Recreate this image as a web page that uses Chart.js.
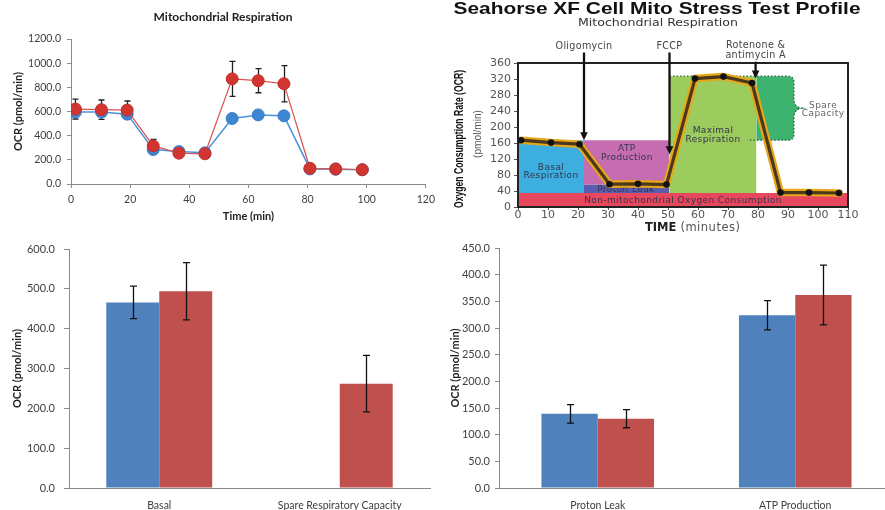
<!DOCTYPE html>
<html>
<head>
<meta charset="utf-8">
<title>Mitochondrial respiration</title>
<script src="https://cdn.jsdelivr.net/npm/chart.js@4.4.1/dist/chart.umd.min.js"></script>
<style>
  html, body { margin: 0; padding: 0; background: #fff; width: 885px; height: 510px; overflow: hidden; }
  canvas { position: absolute; display: block; }
</style>
</head>
<body>
<canvas id="timeCourse" width="440" height="230" style="left:0;top:0"></canvas>
<canvas id="profile" width="445" height="240" style="left:440px;top:0"></canvas>
<canvas id="paramsA" width="440" height="280" style="left:0;top:230px"></canvas>
<canvas id="paramsB" width="456" height="280" style="left:440px;top:230px"></canvas>
<script>
// ---------- time course (pmol/min) ----------
const respTimes     = [1.5, 10.3, 19.0, 27.8, 36.5, 45.3, 54.5, 63.3, 72.0, 80.8, 89.5, 98.5];
const ocrControl    = [595, 595, 578, 285, 268, 258, 542, 572, 564, 125, 122, 118];
const ocrTreated    = [620, 615, 612, 315, 255, 250, 870, 855, 830, 130, 125, 118];
const ocrTreatedErr = [82, 80, 75, 55, 20, 20, 145, 100, 150, 12, 10, 10];

// ---------- Seahorse XF profile ----------
const profileTimes = [1, 11, 20.5, 30.5, 40, 49.5, 59, 68.5, 78, 87.5, 97, 107];
const profileOcr   = [167, 161, 157, 57, 58, 56, 321, 326, 310, 36, 36, 35];

const regionNames = ['Non-mitochondrial Oxygen Consumption', 'Basal Respiration', 'ATP Production',
                     'Proton Leak', 'Maximal Respiration', 'Spare Capacity'];
const regionStart = [0, 0, 22, 22, 50.5, 79.5];
const regionEnd   = [110, 22, 50.5, 50.5, 79.5, 92];
const regionLow   = [0, 35, 56, 35, 35, 167];
const regionHigh  = [35, 167, 167, 56, 327, 327];

const injectionNames   = [['Oligomycin'], ['FCCP'], ['Rotenone &', 'antimycin A']];
const injectionTimes   = [22, 50.5, 79.2];
const injectionTargets = [167, 132, 321];

// ---------- derived parameters ----------
const paramCatsA       = ['Basal', 'Spare Respiratory Capacity'];
const paramControlA    = [466, null];
const paramTreatedA    = [494, 262];
const paramControlErrA = [41, null];
const paramTreatedErrA = [72, 71];

const paramCatsB       = ['Proton Leak', 'ATP Production'];
const paramControlB    = [139, 324];
const paramTreatedB    = [130, 362];
const paramControlErrB = [17.5, 27.5];
const paramTreatedErrB = [17, 56];

// ---------- styling ----------
Chart.defaults.font.family = 'Lato, "Open Sans", sans-serif';
Chart.defaults.color = '#404040';
const axisGray = '#8a8a8a';
const BLUE = '#4F81BD', RED = '#C0504D';
const regionFill = ['#E8485E', '#3CAEE0', '#C66DB1', '#5A5CAE', '#9CCB5E', '#3DB36F'];

// error bars drawn from each dataset's "errors" list through the y scale
function drawErrors(chart, opts) {
  const { ctx } = chart;
  const y = chart.scales.y;
  chart.data.datasets.forEach((ds, di) => {
    if (!ds.errors) return;
    const meta = chart.getDatasetMeta(di);
    meta.data.forEach((el, i) => {
      const raw = ds.data[i];
      const val = (raw && typeof raw === 'object') ? raw.y : raw;
      const e = ds.errors[i];
      if (val == null || e == null) return;
      const x = Math.round(el.x) + 0.5;
      const yt = y.getPixelForValue(val + e), yb = y.getPixelForValue(val - e);
      ctx.save();
      ctx.strokeStyle = opts.color; ctx.lineWidth = opts.width;
      ctx.beginPath();
      ctx.moveTo(x, yt); ctx.lineTo(x, yb);
      ctx.moveTo(x - opts.cap, yt); ctx.lineTo(x + opts.cap, yt);
      ctx.moveTo(x - opts.cap, yb); ctx.lineTo(x + opts.cap, yb);
      ctx.stroke();
      ctx.restore();
    });
  });
}
function errorBars(opts) {
  return {
    id: 'errorBars',
    beforeDatasetsDraw(chart) { if (opts.behind) drawErrors(chart, opts); },
    afterDatasetsDraw(chart) { if (!opts.behind) drawErrors(chart, opts); }
  };
}

// free text items (titles); fitWidth squeezes or stretches the run horizontally
function drawText(ctx, it) {
  ctx.save();
  if ('letterSpacing' in ctx) ctx.letterSpacing = (it.spacing || 0) + 'px';
  ctx.font = `${it.weight || 'normal'} ${it.size || 12}px ${it.family}`;
  ctx.fillStyle = it.color || '#222';
  ctx.textAlign = it.align || 'center';
  ctx.textBaseline = it.baseline || 'middle';
  ctx.translate(it.x, it.y);
  if (it.rotate) ctx.rotate(it.rotate);
  if (it.fitWidth) ctx.scale(it.fitWidth / ctx.measureText(it.text).width, 1);
  ctx.fillText(it.text, 0, 0);
  ctx.restore();
}
function captions(items) {
  return { id: 'captions', afterDraw(chart) { items.forEach(it => drawText(chart.ctx, it)); } };
}

const tickGrid = (len, color) => ({ drawOnChartArea: false, tickLength: len, color: color || axisGray });

// ================= time course =================
new Chart(document.getElementById('timeCourse'), {
  type: 'line',
  data: {
    datasets: [
      { label: 'Treated', data: respTimes.map((t, i) => ({ x: t, y: ocrTreated[i] })), errors: ocrTreatedErr,
        borderColor: '#D9534F', borderWidth: 1.2, pointRadius: 6, pointBackgroundColor: '#D1352F',
        pointBorderColor: '#BF302B', pointBorderWidth: 1 },
      { label: 'Control', data: respTimes.map((t, i) => ({ x: t, y: ocrControl[i] })),
        borderColor: '#4E93DA', borderWidth: 1.5, pointRadius: 6, pointBackgroundColor: '#3E86D2',
        pointBorderColor: '#3A7FC8', pointBorderWidth: 1 }
    ]
  },
  options: {
    responsive: false, animation: false, events: [],
    layout: { padding: { top: 39, right: 12, left: 0, bottom: 0 } },
    plugins: { legend: { display: false }, tooltip: { enabled: false } },
    scales: {
      x: {
        type: 'linear', min: 0, max: 120, afterFit: s => { s.height = 46; },
        ticks: { stepSize: 20, padding: 5, font: { size: 10.5 } },
        grid: tickGrid(4), border: { color: axisGray },
        title: { display: true, text: 'Time (min)', color: '#222', font: { size: 11, weight: 'bold' }, padding: { top: 0, bottom: 6.7 } }
      },
      y: {
        min: 0, max: 1200, afterFit: s => { s.width = 71; },
        ticks: { stepSize: 200, padding: 6, font: { size: 10.5 }, callback: v => v.toFixed(1) },
        grid: tickGrid(4), border: { color: axisGray },
        title: { display: true, text: 'OCR (pmol/min)', color: '#222', font: { size: 11, weight: 'bold' }, padding: { top: 11.4, bottom: 0 } }
      }
    }
  },
  plugins: [
    errorBars({ behind: true, color: '#222', width: 1.3, cap: 3 }),
    captions([{ text: 'Mitochondrial Respiration', x: 223, y: 17, weight: 'bold', size: 12, family: 'Lato', color: '#222' }])
  ]
});

// ================= Seahorse profile =================
const profilePts = profileTimes.map((t, i) => ({ x: t, y: profileOcr[i] }));
const SPARE = regionNames.indexOf('Spare Capacity');
const regionSets = regionNames.map((name, i) => ({
  label: name,
  data: [{ x: regionStart[i], y: regionHigh[i] }, { x: regionEnd[i], y: regionHigh[i] }],
  fill: { value: regionLow[i] }, backgroundColor: regionFill[i],
  borderWidth: 0, pointRadius: 0, order: 2, hidden: i === SPARE
}));

// label placement inside the shaded areas (data units)
const labelSpots = {
  'Non-mitochondrial Oxygen Consumption': { x: 55, y: [17] },
  'Basal Respiration':   { x: 11, y: [99, 79], lines: ['Basal', 'Respiration'] },
  'ATP Production':      { x: 36.3, y: [147, 124], lines: ['ATP', 'Production'] },
  'Proton Leak':         { x: 36, y: [42.5] },
  'Maximal Respiration': { x: 65, y: [190, 169], lines: ['Maximal', 'Respiration'] },
  'Spare Capacity':      { x: 101.7, y: [253, 233], lines: ['Spare', 'Capacity'] }
};

const profileDecor = {
  id: 'profileDecor',
  beforeDatasetDraw(chart, args) {
    if (chart.data.datasets[args.index].label !== 'OCR halo') return;
    const { ctx, scales: { x, y } } = chart;
    // spare capacity block with its brace
    const xl = x.getPixelForValue(regionStart[SPARE]), xr = x.getPixelForValue(regionEnd[SPARE]);
    const yt = y.getPixelForValue(regionHigh[SPARE]), yb = y.getPixelForValue(regionLow[SPARE]);
    const ym = (yt + yb) / 2, tip = xr + 8, r = 6, r2 = 9;
    const outline = (fromX, toX) => {
      ctx.moveTo(fromX, yt);
      ctx.lineTo(xr - r, yt);
      ctx.quadraticCurveTo(xr, yt, xr, yt + r);
      ctx.lineTo(xr, ym - r2);
      ctx.quadraticCurveTo(xr, ym - 1, tip, ym);
      ctx.quadraticCurveTo(xr, ym + 1, xr, ym + r2);
      ctx.lineTo(xr, yb - r);
      ctx.quadraticCurveTo(xr, yb, xr - r, yb);
      ctx.lineTo(toX, yb);
    };
    ctx.save();
    ctx.beginPath();
    outline(xl, xl);
    ctx.closePath();
    ctx.fillStyle = regionFill[SPARE];
    ctx.fill();
    ctx.setLineDash([1.5, 2]);
    ctx.strokeStyle = '#2f5f3a'; ctx.lineWidth = 1.2;
    ctx.beginPath();
    outline(x.getPixelForValue(regionStart[4]), x.getPixelForValue(76.5));
    ctx.stroke();
    ctx.restore();
    // area labels
    regionNames.forEach(name => {
      const spot = labelSpots[name];
      const lines = spot.lines || [name];
      lines.forEach((ln, k) => drawText(ctx, {
        text: ln, x: x.getPixelForValue(spot.x), y: y.getPixelForValue(spot.y[k]),
        family: '"DejaVu Sans"', size: 9, spacing: 0.4,
        color: name === 'Spare Capacity' ? '#666' : '#34344c'
      }));
    });
  },
  afterDatasetsDraw(chart) {
    const { ctx, chartArea: a, scales: { x, y } } = chart;
    ctx.save();
    ctx.strokeStyle = '#222'; ctx.lineWidth = 2;
    ctx.strokeRect(a.left, a.top, a.right - a.left, a.bottom - a.top);
    ctx.restore();
    // injection arrows
    injectionNames.forEach((lines, i) => {
      const px = x.getPixelForValue(injectionTimes[i]);
      const top0 = 46.5 - (lines.length - 1) * 1.2;
      lines.forEach((ln, k) => drawText(ctx, {
        text: ln, x: px, y: top0 + k * 10.4, family: '"DejaVu Sans"', size: 9.6, spacing: 0.3, color: '#444'
      }));
      const start = top0 + (lines.length - 1) * 10.4 + 6;
      const end = y.getPixelForValue(injectionTargets[i]);
      ctx.save();
      ctx.strokeStyle = '#111'; ctx.fillStyle = '#111'; ctx.lineWidth = 2.3;
      ctx.beginPath(); ctx.moveTo(px, start); ctx.lineTo(px, end - 6); ctx.stroke();
      ctx.beginPath(); ctx.moveTo(px - 3.8, end - 8); ctx.lineTo(px + 3.8, end - 8); ctx.lineTo(px, end); ctx.closePath(); ctx.fill();
      ctx.restore();
    });
    // axis titles
    drawText(ctx, { text: 'Oxygen Consumption Rate (OCR)', x: 20, y: 139, rotate: -Math.PI / 2,
      weight: 'bold', size: 12, family: '"Liberation Sans"', fitWidth: 138, color: '#111' });
    drawText(ctx, { text: '(pmol/min)', x: 38, y: 134, rotate: -Math.PI / 2,
      size: 11, family: '"Liberation Sans"', fitWidth: 48, color: '#555' });
    ctx.save();
    ctx.font = 'bold 11.5px "DejaVu Sans"';
    const tw = ctx.measureText('TIME ').width;
    ctx.restore();
    drawText(ctx, { text: 'TIME', x: 205, y: 228, align: 'left', weight: 'bold', family: '"DejaVu Sans"', size: 11.5, color: '#222' });
    drawText(ctx, { text: '(minutes)', x: 205 + tw, y: 228, align: 'left', family: '"DejaVu Sans"', size: 11.5, spacing: 0.5, color: '#555' });
  }
};

new Chart(document.getElementById('profile'), {
  type: 'line',
  data: {
    datasets: [
      { label: 'OCR', data: profilePts, borderColor: '#4B391C', borderWidth: 3.2, pointRadius: 3.3,
        pointBackgroundColor: '#111', pointBorderWidth: 0, order: 0, borderJoinStyle: 'round' },
      { label: 'OCR halo', data: profilePts, borderColor: '#E8A61A', borderWidth: 7.5, pointRadius: 0,
        order: 1, borderJoinStyle: 'round', borderCapStyle: 'round' },
      ...regionSets
    ]
  },
  options: {
    responsive: false, animation: false, events: [],
    layout: { padding: { top: 63, right: 37, left: 0, bottom: 0 } },
    plugins: { legend: { display: false }, tooltip: { enabled: false } },
    scales: {
      x: {
        type: 'linear', min: 0, max: 110, afterFit: s => { s.height = 33; },
        ticks: { stepSize: 10, padding: 0, autoSkip: false, color: '#555', font: { family: '"DejaVu Sans"', size: 11, lineHeight: 1 } },
        grid: tickGrid(3, '#555'), border: { display: false }
      },
      y: {
        min: 0, max: 360, afterFit: s => { s.width = 78; },
        ticks: { stepSize: 40, padding: 3, autoSkip: false, color: '#555', font: { family: '"DejaVu Sans"', size: 11, lineHeight: 1 } },
        grid: tickGrid(4, '#555'), border: { display: false }
      }
    }
  },
  plugins: [
    profileDecor,
    captions([
      { text: 'Seahorse XF Cell Mito Stress Test Profile', x: 217, y: 13.5, baseline: 'alphabetic', weight: 'bold', size: 16.2, family: '"Liberation Sans"', fitWidth: 407, color: '#111' },
      { text: 'Mitochondrial Respiration', x: 218, y: 23.3, size: 10, family: '"DejaVu Sans"', fitWidth: 160, color: '#333' }
    ])
  ]
});

// ================= parameter bar charts =================
function paramChart(id, cats, ctl, trt, ctlErr, trtErr, cfg) {
  new Chart(document.getElementById(id), {
    type: 'bar',
    data: {
      labels: cats,
      datasets: [
        { label: 'Control', data: ctl, errors: ctlErr, backgroundColor: BLUE },
        { label: 'Treated', data: trt, errors: trtErr, backgroundColor: RED }
      ]
    },
    options: {
      responsive: false, animation: false, events: [],
      datasets: { bar: { categoryPercentage: cfg.group, barPercentage: 1 } },
      layout: { padding: { top: cfg.top, right: cfg.right, left: 0, bottom: 0 } },
      plugins: { legend: { display: false }, tooltip: { enabled: false } },
      scales: {
        x: {
          afterFit: s => { s.height = cfg.xh; },
          ticks: { padding: cfg.xpad, font: { size: 10.5, lineHeight: 1 } },
          grid: { display: false }, border: { color: axisGray }
        },
        y: {
          min: 0, max: cfg.max, afterFit: s => { s.width = cfg.yw; },
          ticks: { stepSize: cfg.step, padding: cfg.ypad, font: { size: 11 }, callback: v => v.toFixed(1) },
          grid: tickGrid(cfg.tl), border: { color: axisGray },
          title: { display: true, text: 'OCR (pmol/min)', color: '#222', font: { size: 11, weight: 'bold' },
                   padding: { top: cfg.titlePad, bottom: 0 } }
        }
      }
    },
    plugins: [errorBars({ behind: false, color: '#111', width: 1.3, cap: 3.5 })]
  });
}

paramChart('paramsA', paramCatsA, paramControlA, paramTreatedA, paramControlErrA, paramTreatedErrA,
  { group: 0.587, top: 19, right: 10, xh: 22, xpad: 4, max: 600, step: 100, yw: 69, ypad: 9, tl: 5, titlePad: 10.7 });
paramChart('paramsB', paramCatsB, paramControlB, paramTreatedB, paramControlErrB, paramTreatedErrB,
  { group: 0.57, top: 18, right: 2, xh: 22, xpad: 4, max: 450, step: 50, yw: 59, ypad: 5, tl: 4, titlePad: 8.4 });
</script>
</body>
</html>
